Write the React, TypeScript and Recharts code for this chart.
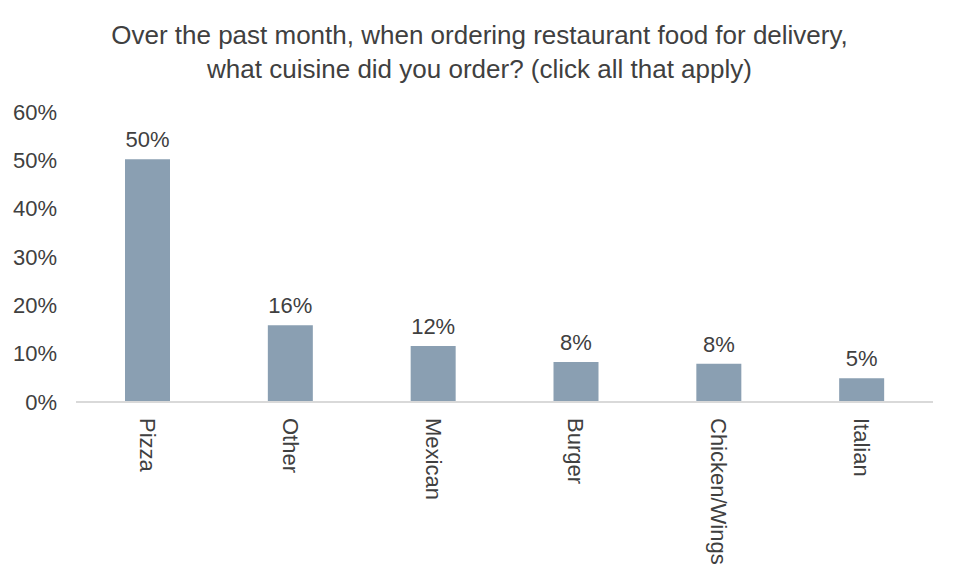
import React from 'react';
import { BarChart, Bar, XAxis, YAxis, LabelList } from 'recharts';

const cuisines = ['Pizza', 'Other', 'Mexican', 'Burger', 'Chicken/Wings', 'Italian'];
const shares = [50.2, 15.9, 11.6, 8.3, 7.9, 4.9];
const yTicks = [0, 10, 20, 30, 40, 50, 60];

const data = cuisines.map((name, i) => ({ name, share: shares[i] }));

const FONT = '"Liberation Sans", Arial, sans-serif';

const RotatedTick = (props: any) => {
  const { x, y, payload } = props;
  return (
    <text
      x={x}
      y={y + 8}
      transform={`rotate(90, ${x}, ${y + 8})`}
      textAnchor="start"
      dominantBaseline="central"
      fill="#404040"
      fontSize={22}
      fontFamily={FONT}
    >
      {payload.value}
    </text>
  );
};

const App: React.FC = () => {
  return (
    <div style={{ position: 'absolute', left: 0, top: 0, width: 959, height: 573, background: '#fff', fontFamily: FONT }}>
      <div
        style={{
          position: 'absolute',
          left: 0,
          top: 18,
          width: 959,
          textAlign: 'center',
          fontSize: 26,
          lineHeight: '34px',
          color: '#404040',
        }}
      >
        Over the past month, when ordering restaurant food for delivery,
        <br />
        what cuisine did you order? (click all that apply)
      </div>
      <BarChart
        width={959}
        height={573}
        data={data}
        margin={{ top: 112, right: 26, left: 0, bottom: 0 }}
      >
        <YAxis
          width={76}
          domain={[0, 60]}
          ticks={yTicks}
          interval={0}
          axisLine={false}
          tickLine={false}
          tickSize={0}
          tickMargin={19}
          tickFormatter={(v: number) => `${v}%`}
          tick={{ fill: '#404040', fontSize: 22, fontFamily: FONT }}
        />
        <XAxis
          dataKey="name"
          height={171}
          interval={0}
          axisLine={{ stroke: '#d9d9d9', strokeWidth: 2 }}
          tickLine={false}
          tick={<RotatedTick />}
        />
        <Bar dataKey="share" fill="#8a9fb2" barSize={45} isAnimationActive={false}>
          <LabelList
            dataKey="share"
            position="top"
            offset={12}
            formatter={(v: any) => `${Math.round(Number(v))}%`}
            style={{ fill: '#404040', fontSize: 22, fontFamily: FONT }}
          />
        </Bar>
      </BarChart>
    </div>
  );
};

export default App;
